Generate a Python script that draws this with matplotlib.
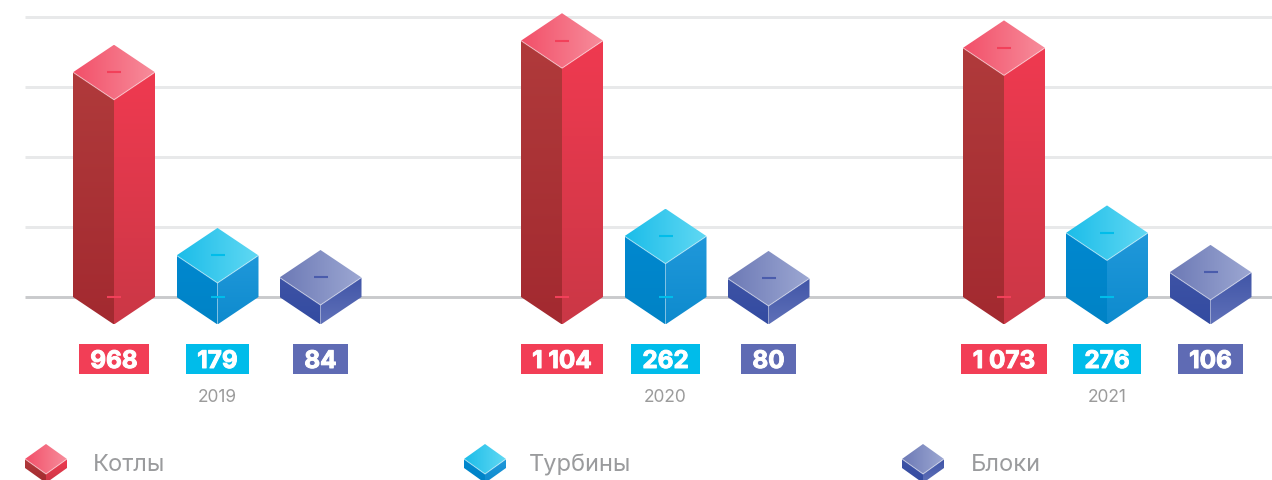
import numpy as np
import matplotlib.pyplot as plt
import matplotlib.patheffects as pe
from matplotlib.colors import to_rgb
from matplotlib.patches import Polygon, Rectangle

years = ["2019", "2020", "2021"]
kotly = [968, 1104, 1073]
turbiny = [179, 262, 276]
bloki = [84, 80, 106]
names = ["Котлы", "Турбины", "Блоки"]
grid_values = [0, 300, 600, 900, 1200]

# x centres of the columns, px
group_x = [[114, 217.5, 320.5], [562, 665.5, 768.5], [1004, 1107, 1210.5]]
year_x = [217, 665, 1107]
icon_x = [46, 485, 923]
name_x = [93, 529, 971]

palette = [
    dict(top=("#f25069", "#f78c9b"), left=("#b03a3b", "#a32a30"), right=("#ef3a50", "#cb3746"),
         dash="#f2405a", box="#f23e56"),
    dict(top=("#1cbde9", "#60d8f3"), left=("#0088cf", "#0083c6"), right=("#2098da", "#0e8bce"),
         dash="#00bdea", box="#00bcea"),
    dict(top=("#6d7ab6", "#9ca7d2"), left=("#3e53a5", "#334ba1"), right=("#4055a7", "#5f70b8"),
         dash="#4a5cac", box="#5f6bb4"),
]

PX = 70 / 300  # px per unit
BASE = 297
HW = 41
HH = 27.5
BAR_K = 0.995  # columns run a touch short of the grid


def yv(py):
    return (BASE - py) / PX


fig = plt.figure(figsize=(12.72, 4.8), dpi=100)
ax = fig.add_axes([0, 0, 1, 1])
ax.axis("off")


def face(points, c1, c2, horizontal, z):
    pts = np.array(points)
    xa, xb = pts[:, 0].min(), pts[:, 0].max()
    ya, yb = pts[:, 1].min(), pts[:, 1].max()
    t = np.linspace(0, 1, 32)
    if horizontal:
        u = np.tile(t, (32, 1))
    else:
        u = np.tile(t[:, None], (1, 32))
    a, b = np.array(to_rgb(c1)), np.array(to_rgb(c2))
    rgb = a[None, None, :] * (1 - u[..., None]) + b[None, None, :] * u[..., None]
    im = ax.imshow(rgb, extent=(xa, xb, ya, yb), origin="upper", aspect="auto",
                   interpolation="bilinear", zorder=z)
    im.set_clip_path(Polygon(pts, closed=True, transform=ax.transData))


def column(cx, top, base, st, hw=HW, hh=HH, z=3, top_dash=True, base_dash=True):
    dy = hh / PX
    left = [(cx - hw, top), (cx, top - dy), (cx, base - dy), (cx - hw, base)]
    right = [(cx + hw, top), (cx, top - dy), (cx, base - dy), (cx + hw, base)]
    upper = [(cx - hw, top), (cx, top + dy), (cx + hw, top), (cx, top - dy)]
    face(left, st["left"][0], st["left"][1], False, z)
    face(right, st["right"][0], st["right"][1], False, z)
    face(upper, st["top"][0], st["top"][1], True, z)
    ax.plot([cx - hw, cx, cx + hw], [top, top - dy, top], color="white", alpha=0.45, lw=0.8, zorder=z + 1)
    if top_dash:
        ax.plot([cx - 7, cx + 7], [top, top], color=st["dash"], lw=1.5, solid_capstyle="butt", zorder=z + 2)
    if base_dash:
        ax.plot([cx - 7, cx + 7], [base, base], color=st["dash"], lw=1.5, solid_capstyle="butt", zorder=z + 2)


ax.hlines(grid_values[1:], 25, 1272, color="#e8e9ea", lw=2.1, zorder=1)
ax.hlines(grid_values[0], 25, 1272, color="#c9cacc", lw=2.1, zorder=1)

series = [kotly, turbiny, bloki]
labels = []
for g, year in enumerate(years):
    for s, vals in enumerate(series):
        cx = group_x[g][s]
        column(cx, vals[g] * BAR_K, 0, palette[s], base_dash=s < 2)
        txt = f"{vals[g]:,}".replace(",", " ")
        t = ax.text(cx, yv(359), txt, ha="center", va="center_baseline", color="white",
                    fontsize=17.5, fontweight="bold", family="Inter", zorder=6)
        t.set_path_effects([pe.withStroke(linewidth=0.7, foreground="white")])
        labels.append((cx, s, t))
    ax.text(year_x[g], yv(397), year, ha="center", va="center", color="#9b9b9b", fontsize=12.5, family="Inter")

for i, name in enumerate(names):
    column(icon_x[i], yv(459), yv(468), palette[i], hw=21, hh=15, top_dash=False, base_dash=False)
    ax.text(name_x[i], yv(465), name, ha="left", va="center", color="#9a9b9d", fontsize=17, family="Inter")

ax.set_xlim(0, 1272)
ax.set_ylim(yv(480), yv(0))

# label boxes follow the text width
fig.canvas.draw()
rend = fig.canvas.get_renderer()
for cx, s, t in labels:
    w = t.get_window_extent(rend).width + 23
    ax.add_patch(Rectangle((cx - w / 2, yv(374)), w, 30 / PX, color=palette[s]["box"], lw=0, zorder=5))

fig.savefig("out.png", dpi=100)
